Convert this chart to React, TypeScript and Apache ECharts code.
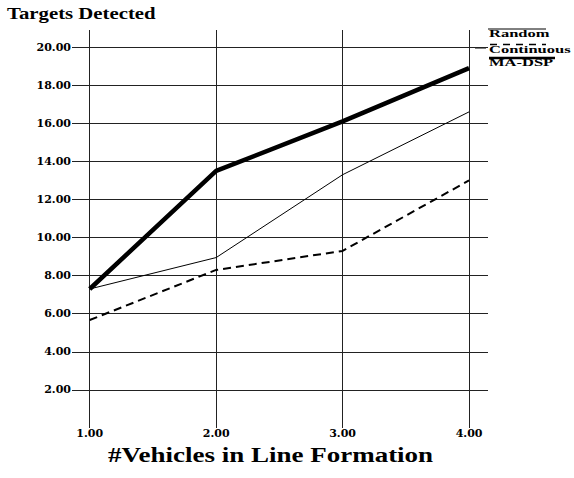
import React, { useEffect, useRef } from "react";
import * as echarts from "echarts";

const vehicles = [1, 2, 3, 4];
const randomValues = [7.3, 8.95, 13.3, 16.6];
const continuousValues = [5.67, 8.3, 9.3, 13.0];
const maDspValues = [7.3, 13.5, 16.1, 18.9];
const yTickValues = [2, 4, 6, 8, 10, 12, 14, 16, 18, 20];
const seriesNames = ["Random", "Continuous", "MA-DSP"];

const SERIF = "'Liberation Serif', 'Times New Roman', serif";
const LABEL_FONT = "'DejaVu Serif', serif";

export default function App() {
  const ref = useRef<HTMLDivElement>(null);

  useEffect(() => {
    if (!ref.current) return;
    const chart = echarts.init(ref.current, null, { renderer: "svg" });
    const toData = (vals: number[]) => vehicles.map((x, i) => [x, vals[i]]);
    const gridColors = ["rgba(0,0,0,0)"]
      .concat(yTickValues.map(() => "#222"))
      .concat(["rgba(0,0,0,0)"]);

    const legendText = (text: string, y: number) => ({
      type: "text",
      x: 489,
      y,
      scaleX: 1.5,
      silent: true,
      style: {
        x: 0,
        y: 0,
        text,
        fontFamily: SERIF,
        fontWeight: "bold",
        fontSize: 11,
        fill: "#000",
        align: "left",
        verticalAlign: "middle",
      },
    });

    chart.setOption({
      animation: false,
      backgroundColor: "#fff",
      grid: { left: 72, right: 86, top: 30, bottom: 50, containLabel: false },
      xAxis: {
        type: "value",
        min: 0.86,
        max: 4.15,
        axisLine: { show: false },
        splitLine: { show: false },
        axisTick: {
          show: true,
          customValues: vehicles,
          inside: true,
          length: 398,
          lineStyle: { color: "#222", width: 1 },
        },
        axisLabel: {
          customValues: vehicles,
          margin: 0,
          fontFamily: LABEL_FONT,
          fontWeight: "bold",
          fontSize: 11,
          color: "#000",
          formatter: (v: number) => v.toFixed(2),
        },
      },
      yAxis: {
        type: "value",
        min: 0,
        max: 20.9,
        interval: 2,
        axisLine: { show: false },
        axisTick: { show: false },
        splitLine: { show: true, lineStyle: { color: gridColors, width: 1 } },
        axisLabel: {
          margin: 1,
          fontFamily: LABEL_FONT,
          fontWeight: "bold",
          fontSize: 11,
          color: "#000",
          verticalAlign: "middle",
          padding: [0, 0, 7, 0],
          formatter: (v: number) =>
            yTickValues.indexOf(Math.round(v * 100) / 100) >= 0 ? v.toFixed(2) : "",
        },
      },
      series: [
        {
          name: seriesNames[0],
          type: "line",
          data: toData(randomValues),
          symbol: "none",
          lineStyle: { color: "#000", width: 1 },
        },
        {
          name: seriesNames[1],
          type: "line",
          data: toData(continuousValues),
          symbol: "none",
          lineStyle: { color: "#000", width: 2, type: [8, 5] },
        },
        {
          name: seriesNames[2],
          type: "line",
          data: toData(maDspValues),
          symbol: "none",
          lineStyle: { color: "#000", width: 4.5 },
        },
      ],
      graphic: [
        {
          type: "text",
          x: 7,
          y: 13,
          scaleX: 1.26,
          silent: true,
          style: {
            x: 0,
            y: 0,
            text: "Targets Detected",
            fontFamily: SERIF,
            fontWeight: "bold",
            fontSize: 16.5,
            fill: "#000",
            align: "left",
            verticalAlign: "middle",
          },
        },
        {
          type: "text",
          x: 108,
          y: 455,
          scaleX: 1.35,
          silent: true,
          style: {
            x: 0,
            y: 0,
            text: "#Vehicles in Line Formation",
            fontFamily: SERIF,
            fontWeight: "bold",
            fontSize: 20,
            fill: "#000",
            align: "left",
            verticalAlign: "middle",
          },
        },
        legendText(seriesNames[0], 33.5),
        legendText(seriesNames[1], 49.5),
        legendText(seriesNames[2], 62),
        {
          type: "line",
          silent: true,
          shape: { x1: 488, y1: 29, x2: 546, y2: 29 },
          style: { stroke: "#000", lineWidth: 1 },
        },
        {
          type: "line",
          silent: true,
          shape: { x1: 475, y1: 48, x2: 486, y2: 48 },
          style: { stroke: "#000", lineWidth: 1 },
        },
        {
          type: "line",
          silent: true,
          shape: { x1: 490, y1: 44.5, x2: 546, y2: 44.5 },
          style: { stroke: "#000", lineWidth: 1.5, lineDash: [7, 6] },
        },
        {
          type: "line",
          silent: true,
          shape: { x1: 489, y1: 58, x2: 555, y2: 58 },
          style: { stroke: "#000", lineWidth: 2.5 },
        },
      ],
    });
    return () => chart.dispose();
  }, []);

  return (
    <div
      ref={ref}
      style={{ position: "fixed", left: 0, top: 0, width: 574, height: 478, background: "#fff" }}
    />
  );
}
